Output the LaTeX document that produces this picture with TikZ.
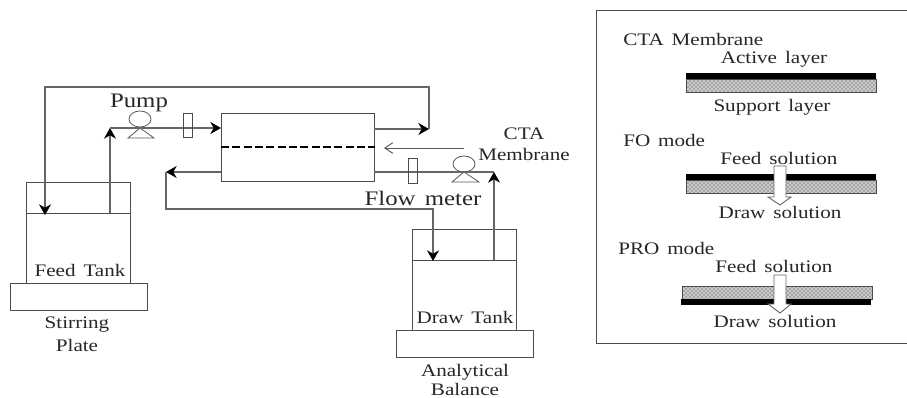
\documentclass[tikz,border=0pt]{standalone}
\usepackage{fontspec}
\setmainfont{Liberation Serif}
\newfontfamily\widefont[FakeStretch=1.2,WordSpace=1.5]{Liberation Serif}
\usepackage{tikz}
\usetikzlibrary{arrows.meta,patterns}
\tikzset{
	pipe/.style={draw=black!60,line width=0.85pt},
	wall/.style={draw=black!70,line width=0.7pt},
	bigtext/.style={font=\widefont\fontsize{15.5}{15.5}\selectfont,inner sep=0pt,text=black!85},
	smalltext/.style={font=\widefont\fontsize{13.2}{13.2}\selectfont,inner sep=0pt,text=black!85},
	boxnode/.style={wall,inner sep=0pt,anchor=north west},
	pumpline/.style={draw=black!65,line width=0.6pt},
	support/.style={draw=black!70,line width=0.6pt,preaction={fill=gray!75},pattern=crosshatch,pattern color=white!85!black},
	active/.style={fill=black,inner sep=0pt,anchor=north west},
	flowarrow/.style={draw=black!60,fill=white,line width=0.7pt},
	>={Stealth[length=8pt,width=9pt,inset=2.5pt,color=black]}
}
\begin{document}
\begin{tikzpicture}[x=0.75pt,y=-0.75pt]
	\useasboundingbox (0,0) rectangle (907,397);
	% tanks and plates
	\node[boxnode,minimum width=78pt,minimum height=75.75pt] (feedtank) at (26,182) {};
	\node[boxnode,minimum width=103pt,minimum height=20pt] (feedplate) at (10,283) {};
	\node[boxnode,minimum width=78pt,minimum height=75.75pt] (drawtank) at (412,229) {};
	\node[boxnode,minimum width=103pt,minimum height=20pt] (drawplate) at (396,330) {};
	\draw[wall] (26,213) coordinate (feedlevel) -- (130,213);
	\draw[wall] (412,260) coordinate (drawlevel) -- (516,260);
	% membrane module
	\node[boxnode,minimum width=115pt,minimum height=51pt] (module) at (221,113) {};
	\draw[line width=1.6pt,dash pattern=on 6pt off 2.5pt] (module.west |- 0,147) -- (module.east |- 0,147);
	% pumps
	\draw[pumpline] (140,119) ellipse (11 and 8);
	\draw[pumpline] (128,138) -- (140,128) -- (154,138) -- cycle;
	\draw[pumpline] (464,164) ellipse (11 and 8);
	\draw[pumpline] (452,182) -- (464,172) -- (479,182) -- cycle;
	% feed loop
	\coordinate (feedup) at (110,213);
	\coordinate (feedbend) at (110,128);
	\coordinate (feedout) at (374,129);
	\coordinate (feedcorner) at (429,129);
	\coordinate (feedtop) at (429,87);
	\coordinate (feedleft) at (45,87);
	\coordinate (feedin) at (45,215);
	\draw[pipe,->] (feedup) -- (feedbend);
	\draw[pipe,->] (feedbend) -- (221,128);
	\draw[pipe,->] (feedout) -- (feedcorner);
	\draw[pipe,->] (feedcorner) -- (feedtop) -- (feedleft) -- (feedin);
	% draw loop
	\coordinate (drawup) at (494,260);
	\coordinate (drawbend) at (494,172);
	\coordinate (drawout) at (221,172);
	\coordinate (drawcorner) at (166,172);
	\coordinate (drawlow) at (166,209);
	\coordinate (drawright) at (433,209);
	\coordinate (drawin) at (433,261);
	\draw[pipe,->] (drawup) -- (drawbend);
	\draw[pipe] (drawbend) -- (374,172);
	\draw[pipe,->] (drawout) -- (drawcorner);
	\draw[pipe,->] (drawcorner) -- (drawlow) -- (drawright) -- (drawin);
	% flow meters
	\node[boxnode,minimum width=6.75pt,minimum height=18pt] (feedmeter) at (183,113) {};
	\node[boxnode,minimum width=6.75pt,minimum height=18.5pt] (drawmeter) at (408,158) {};
	% membrane pointer
	\coordinate (ctatail) at (464,148);
	\draw[draw=black!65,line width=0.7pt,-{Straight Barb[length=6pt,width=8pt]}] (ctatail) -- (384,148);
	% labels
	\node[bigtext] (pumplabel) at (139,103) {Pump};
	\node[bigtext] (flowlabel) at (423,198) {Flow meter};
	\node[smalltext] (ctalabel) at (524,134) {CTA};
	\node[smalltext] (memlabel) at (524,154) {Membrane};
	\node[smalltext] (feedlabel) at (80,270) {Feed Tank};
	\node[smalltext] (drawlabel) at (465,317) {Draw Tank};
	\node[smalltext] (stirlabel) at (77,325) {Stirring};
	\node[smalltext] (platelabel) at (77,345) {Plate};
	\node[smalltext] (analabel) at (465,372) {Analytical};
	\node[smalltext] (ballabel) at (465,389) {Balance};
	% legend
	\node[boxnode,line width=0.9pt,minimum width=237pt,minimum height=250pt] (legend) at (596,9.5) {};
	\node[smalltext,anchor=west] (ctatitle) at (623,39) {CTA Membrane};
	\node[smalltext] (activelabel) at (774,59) {Active layer};
	\draw[support] (686,79) rectangle (876,92);
	\node[active,minimum width=142.5pt,minimum height=4.5pt] (activebar) at (686,73) {};
	\node[smalltext] (supportlabel) at (772,107) {Support layer};
	\node[smalltext,anchor=west] (fotitle) at (623,140) {FO mode};
	\node[smalltext] (fofeed) at (779,158) {Feed solution};
	\draw[support] (686,180) rectangle (876,193);
	\node[active,minimum width=142.5pt,minimum height=4.5pt] (fobar) at (686,174) {};
	\draw[flowarrow] (774,166) -- (786,166) -- (786,197) -- (791,197) -- (780,205) -- (768,197) -- (774,197) -- cycle;
	\node[smalltext] (fodraw) at (780,212) {Draw solution};
	\node[smalltext,anchor=west] (protitle) at (618,248) {PRO mode};
	\node[smalltext] (profeed) at (774,266) {Feed solution};
	\draw[support] (682,286) rectangle (872,299);
	\node[active,minimum width=142pt,minimum height=4.5pt] (probar) at (681,299) {};
	\draw[flowarrow] (774,275) -- (786,275) -- (786,304) -- (791,304) -- (780,313) -- (768,304) -- (774,304) -- cycle;
	\node[smalltext] (prodraw) at (775,321) {Draw solution};
\end{tikzpicture}
\end{document}
